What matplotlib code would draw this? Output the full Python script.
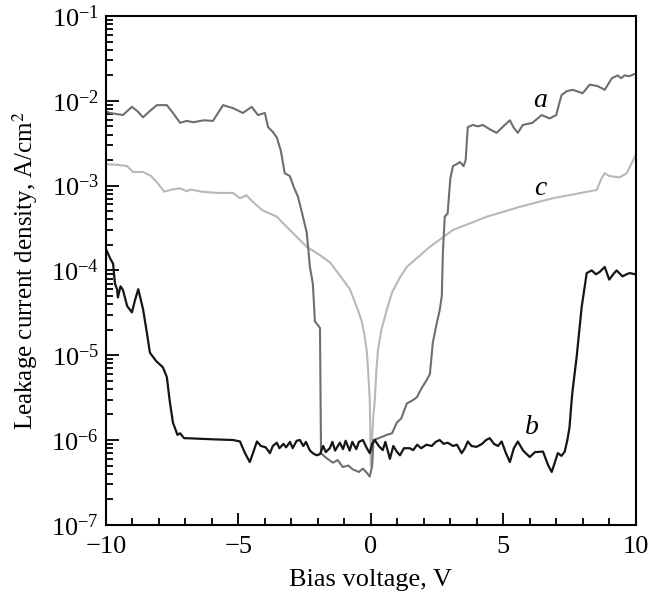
import matplotlib
matplotlib.use('Agg')
import matplotlib.pyplot as plt
import matplotlib.ticker as ticker

plt.rcParams['font.family'] = ['Liberation Serif', 'DejaVu Serif']
plt.rcParams['mathtext.fontset'] = 'stix'

# curve a (dark gray)
a_v = [-10.0, -9.85, -9.6, -9.36, -9.02, -8.8, -8.6, -8.3, -8.08, -7.7,
       -7.47, -7.2, -6.95, -6.7, -6.3, -5.96, -5.58, -5.2, -4.83, -4.5,
       -4.26, -4.0, -3.88, -3.7, -3.55, -3.4, -3.25, -3.06, -2.9, -2.75,
       -2.6, -2.42, -2.3, -2.19, -2.11, -1.92, -1.88, -1.7, -1.43, -1.25,
       -1.06, -0.85, -0.68, -0.45, -0.3, -0.15, -0.04, 0.05, 0.1, 0.3,
       0.6, 0.8, 0.98, 1.15, 1.36, 1.55, 1.74, 1.9, 2.11, 2.23,
       2.34, 2.49, 2.6, 2.68, 2.72, 2.79, 2.9, 3.0, 3.1, 3.25,
       3.36, 3.5, 3.58, 3.66, 3.85, 4.05, 4.23, 4.5, 4.75, 5.0,
       5.25, 5.4, 5.55, 5.74, 6.1, 6.45, 6.75, 7.0, 7.1, 7.2,
       7.4, 7.62, 8.0, 8.26, 8.55, 8.83, 9.1, 9.32, 9.45, 9.58,
       9.75, 10.0]
a_j = [7.5e-3, 7.2e-3, 7.0e-3, 6.8e-3, 8.5e-3, 7.5e-3, 6.4e-3, 7.8e-3, 8.9e-3, 8.9e-3,
       7.2e-3, 5.5e-3, 5.8e-3, 5.6e-3, 5.9e-3, 5.8e-3, 8.9e-3, 8.2e-3, 7.2e-3, 8.5e-3,
       6.8e-3, 7.2e-3, 4.9e-3, 4.3e-3, 3.7e-3, 2.6e-3, 1.4e-3, 1.3e-3, 9.5e-4, 7.4e-4,
       4.8e-4, 2.8e-4, 1.1e-4, 7.0e-5, 2.5e-5, 2.1e-5, 7.0e-7, 6.2e-7, 5.4e-7, 5.8e-7,
       4.8e-7, 5.0e-7, 4.5e-7, 4.2e-7, 4.6e-7, 4.1e-7, 3.7e-7, 5.0e-7, 1.0e-6, 1.05e-6,
       1.15e-6, 1.2e-6, 1.6e-6, 1.8e-6, 2.7e-6, 2.9e-6, 3.2e-6, 4.0e-6, 5.1e-6, 6.0e-6,
       1.4e-5, 2.4e-5, 3.4e-5, 5.0e-5, 1.6e-4, 4.3e-4, 4.7e-4, 1.2e-3, 1.7e-3, 1.8e-3,
       1.9e-3, 1.7e-3, 2.0e-3, 4.9e-3, 5.2e-3, 5.0e-3, 5.2e-3, 4.6e-3, 4.2e-3, 5.0e-3,
       5.9e-3, 4.8e-3, 4.2e-3, 5.2e-3, 5.5e-3, 6.8e-3, 6.2e-3, 6.8e-3, 9.0e-3, 1.17e-2,
       1.3e-2, 1.35e-2, 1.23e-2, 1.55e-2, 1.5e-2, 1.35e-2, 1.85e-2, 2.0e-2, 1.85e-2, 2.0e-2,
       1.95e-2, 2.1e-2]

# curve b (black)
b_v = [-10.0, -9.85, -9.73, -9.66, -9.58, -9.55, -9.45, -9.36, -9.2, -9.02,
       -8.9, -8.78, -8.6, -8.45, -8.34, -8.1, -7.85, -7.7, -7.6, -7.47,
       -7.3, -7.2, -7.05, -6.94, -6.0, -5.2, -4.94, -4.75, -4.57, -4.45,
       -4.3, -4.15, -3.97, -3.81, -3.7, -3.55, -3.45, -3.3, -3.2, -3.05,
       -2.95, -2.8, -2.68, -2.55, -2.45, -2.3, -2.19, -2.05, -1.92, -1.8,
       -1.7, -1.55, -1.45, -1.35, -1.17, -1.05, -0.95, -0.8, -0.7, -0.55,
       -0.45, -0.3, -0.15, -0.04, 0.05, 0.15, 0.3, 0.45, 0.55, 0.72,
       0.85, 0.98, 1.1, 1.25, 1.47, 1.6, 1.75, 1.9, 2.1, 2.3,
       2.45, 2.6, 2.75, 2.9, 3.1, 3.25, 3.43, 3.55, 3.66, 3.8,
       3.99, 4.2, 4.35, 4.49, 4.65, 4.8, 4.94, 5.1, 5.25, 5.4,
       5.55, 5.75, 6.0, 6.2, 6.5, 6.7, 6.83, 6.95, 7.06, 7.2,
       7.32, 7.42, 7.5, 7.58, 7.62, 7.77, 7.96, 8.0, 8.15, 8.34,
       8.5, 8.64, 8.83, 9.0, 9.15, 9.28, 9.5, 9.65, 9.77, 10.0]
b_j = [1.8e-4, 1.4e-4, 1.2e-4, 7.0e-5, 6.0e-5, 4.8e-5, 6.5e-5, 5.9e-5, 3.8e-5, 3.2e-5,
       4.5e-5, 6.0e-5, 3.5e-5, 1.8e-5, 1.07e-5, 8.5e-6, 7.2e-6, 5.5e-6, 3.0e-6, 1.6e-6,
       1.15e-6, 1.2e-6, 1.05e-6, 1.05e-6, 1.02e-6, 1.0e-6, 9.6e-7, 7.0e-7, 5.5e-7, 7.0e-7,
       9.6e-7, 8.5e-7, 8.2e-7, 7.0e-7, 8.5e-7, 9.3e-7, 8.0e-7, 9.0e-7, 8.2e-7, 9.5e-7,
       8.0e-7, 9.8e-7, 1.0e-6, 8.5e-7, 9.5e-7, 7.5e-7, 7.0e-7, 6.6e-7, 6.8e-7, 8.5e-7,
       7.2e-7, 8.0e-7, 9.5e-7, 7.5e-7, 9.3e-7, 7.8e-7, 9.8e-7, 7.5e-7, 9.5e-7, 7.8e-7,
       9.5e-7, 1.0e-6, 8.0e-7, 7.0e-7, 9.0e-7, 1.0e-6, 8.5e-7, 7.6e-7, 9.5e-7, 6.0e-7,
       8.5e-7, 7.3e-7, 6.6e-7, 8.0e-7, 8.0e-7, 7.6e-7, 8.8e-7, 8.0e-7, 8.8e-7, 8.5e-7,
       9.5e-7, 1.0e-6, 9.0e-7, 9.3e-7, 8.5e-7, 8.8e-7, 7.0e-7, 8.0e-7, 9.6e-7, 8.5e-7,
       8.3e-7, 9.0e-7, 1.0e-6, 1.05e-6, 9.0e-7, 8.5e-7, 9.6e-7, 7.0e-7, 5.5e-7, 8.0e-7,
       9.6e-7, 7.5e-7, 6.3e-7, 7.2e-7, 7.3e-7, 5.0e-7, 4.2e-7, 5.5e-7, 7.0e-7, 6.5e-7,
       7.3e-7, 1.0e-6, 1.4e-6, 2.9e-6, 3.9e-6, 9.5e-6, 3.7e-5, 4.5e-5, 9.3e-5, 1.0e-4,
       9.0e-5, 9.6e-5, 1.1e-4, 7.8e-5, 9.0e-5, 1.0e-4, 8.5e-5, 9.0e-5, 9.3e-5, 9.0e-5]

# curve c (light gray)
c_v = [-10.0, -9.5, -9.2, -8.98, -8.6, -8.3, -8.08, -7.8, -7.5, -7.2,
       -6.95, -6.8, -6.4, -5.8, -5.2, -4.94, -4.7, -4.4, -4.08, -3.55,
       -3.06, -2.42, -1.9, -1.55, -1.2, -0.79, -0.5, -0.34, -0.25, -0.15,
       -0.1, -0.04, 0.0, 0.05, 0.1, 0.15, 0.2, 0.27, 0.4, 0.6,
       0.8, 1.1, 1.36, 2.23, 3.1, 4.38, 5.6, 6.87, 8.53, 8.7,
       8.83, 9.0, 9.4, 9.66, 10.0]
c_j = [1.8e-3, 1.75e-3, 1.7e-3, 1.45e-3, 1.45e-3, 1.3e-3, 1.1e-3, 8.5e-4, 9.0e-4, 9.3e-4,
       8.6e-4, 9.0e-4, 8.5e-4, 8.2e-4, 8.2e-4, 7.1e-4, 7.7e-4, 6.2e-4, 5.1e-4, 4.3e-4,
       3.0e-4, 1.9e-4, 1.5e-4, 1.25e-4, 9.0e-5, 6.0e-5, 3.5e-5, 2.5e-5, 1.8e-5, 1.1e-5,
       6.5e-6, 2.9e-6, 5.0e-7, 1.1e-6, 2.0e-6, 2.9e-6, 6.0e-6, 1.15e-5, 2.0e-5, 3.4e-5,
       5.5e-5, 8.3e-5, 1.1e-4, 1.9e-4, 3.0e-4, 4.3e-4, 5.6e-4, 7.1e-4, 8.9e-4, 1.2e-3,
       1.4e-3, 1.3e-3, 1.25e-3, 1.4e-3, 2.3e-3]

curve_labels = ['a', 'b', 'c']
label_v = [6.4, 6.1, 6.4]
label_j = [1.0e-2, 1.4e-6, 9.3e-4]

fig = plt.figure(figsize=(6.5, 5.95), dpi=100)
ax = fig.add_axes([0.163, 0.118, 0.815, 0.855])

ax.plot(c_v, c_j, color='#b8b8b8', lw=1.5, solid_joinstyle='round')
ax.plot(a_v, a_j, color='#6e6e6e', lw=1.5, solid_joinstyle='round')
ax.plot(b_v, b_j, color='#151515', lw=1.6, solid_joinstyle='round')

for lab, v, j in zip(curve_labels, label_v, label_j):
    ax.text(v, j, lab, fontsize=20, style='italic', ha='center', va='center')

ax.set_yscale('log')
ax.set_xlim(-10, 10)
ax.set_ylim(1e-7, 1e-1)
ax.xaxis.set_major_locator(ticker.MultipleLocator(5))
ax.xaxis.set_minor_locator(ticker.MultipleLocator(1))
ax.yaxis.set_major_locator(ticker.LogLocator(base=10, numticks=10))
ax.yaxis.set_minor_locator(ticker.LogLocator(base=10, subs=range(2, 10), numticks=20))
ax.yaxis.set_minor_formatter(ticker.NullFormatter())

ax.tick_params(which='both', direction='in', top=False, right=False, labelsize=19, width=1.3)
ax.tick_params(which='major', length=9)
ax.tick_params(axis='x', which='major', pad=8)
ax.tick_params(axis='y', which='major', pad=5)
ax.tick_params(which='minor', length=5)
for sp in ax.spines.values():
    sp.set_linewidth(1.5)

ax.set_xlabel('Bias voltage, V', fontsize=19, labelpad=8)
ax.set_ylabel('Leakage current density, A/cm$^2$', fontsize=18, labelpad=8)

fig.savefig('out.png', dpi=100)
